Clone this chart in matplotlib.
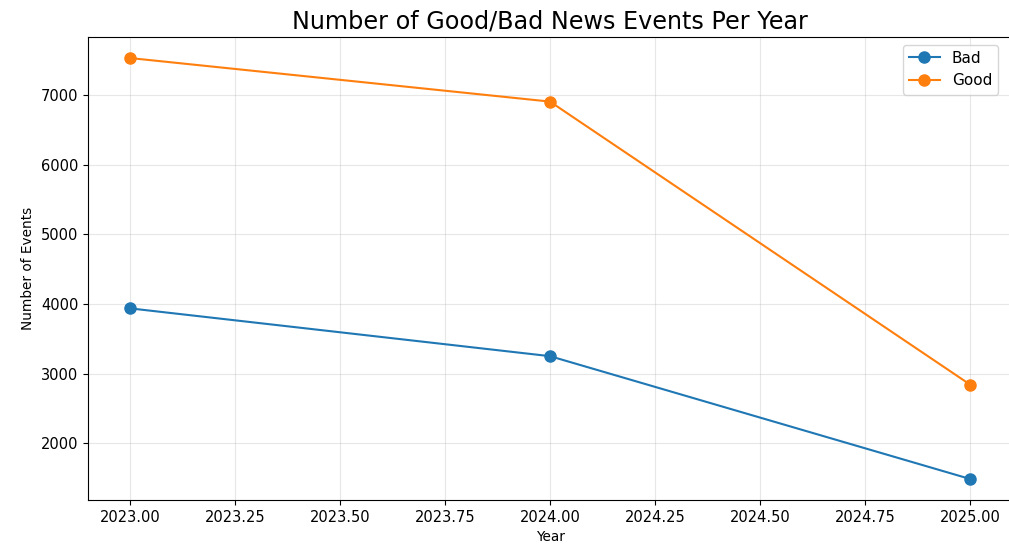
import matplotlib
matplotlib.use("Agg")
import matplotlib.pyplot as plt

# ---------- data ----------
YEARS = [2023, 2024, 2025]
BAD_COUNTS = [3938, 3252, 1490]
GOOD_COUNTS = [7530, 6905, 2845]

plt.rcParams['font.size'] = 9.8
plt.rcParams['xtick.labelsize'] = 10.5
plt.rcParams['ytick.labelsize'] = 10.5

fig = plt.figure(figsize=(10.09, 5.5), dpi=100)
# axes runs slightly past the right edge of the canvas
ax = fig.add_axes([88 / 1009, 50 / 550, (1012 - 88) / 1009, (500 - 37) / 550])

ax.plot(YEARS, BAD_COUNTS, marker='o', markersize=8, label='Bad')
ax.plot(YEARS, GOOD_COUNTS, marker='o', markersize=8, label='Good')

ax.set_title('Number of Good/Bad News Events Per Year', fontsize=17.2)
ax.set_xlabel('Year')
ax.set_ylabel('Number of Events')
ax.xaxis.set_major_formatter(matplotlib.ticker.FormatStrFormatter('%.2f'))
ax.spines['right'].set_visible(False)
ax.grid(True, alpha=0.3)
ax.legend(loc='upper right', fontsize=11,
          bbox_to_anchor=((1006 - 88) / (1012 - 88), 1.0))

fig.savefig('out.png', dpi=100)
